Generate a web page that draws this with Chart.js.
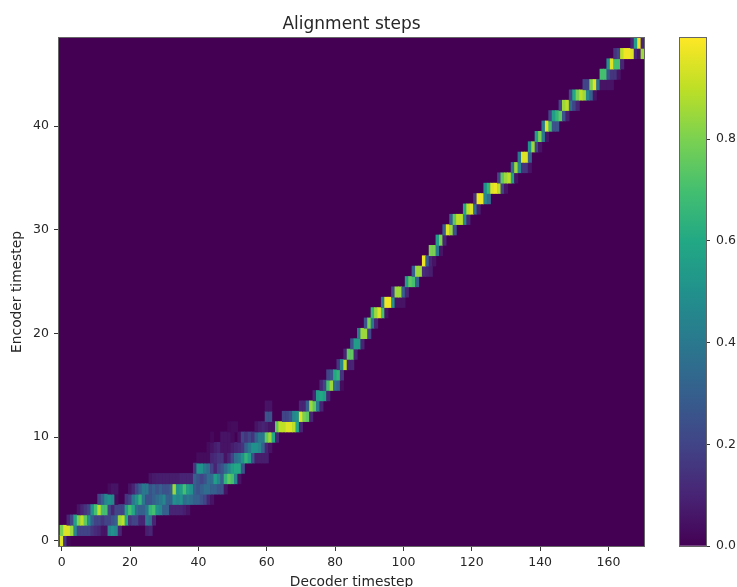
<!DOCTYPE html>
<html>
<head>
<meta charset="utf-8">
<style>
  body { margin: 0; background: #fff; }
  #alignChart { position: absolute; left: 0; top: 0; }
  #barChart { position: absolute; left: 650px; top: 0; }
</style>
<script src="https://cdn.jsdelivr.net/npm/chart.js@4/dist/chart.umd.min.js"></script>
</head>
<body>
<canvas id="alignChart" width="703" height="587"></canvas>
<canvas id="barChart" width="87" height="587"></canvas>
<script>
const title = 'Alignment steps';
const xTitle = 'Decoder timestep';
const yTitle = 'Encoder timestep';
const xRange = [-0.8, 170.4];
const yRange = [-0.5, 48.5];
const colorRange = [0, 0.999];

// first decoder step of each encoder row
const rowStarts = [
  0, 0, 2, 5, 11, 14, 26, 39, 40, 43,
  44, 49, 60, 60, 74, 76, 78, 81, 83, 85,
  87, 89, 91, 94, 97, 101, 103, 106, 108, 110,
  112, 114, 118, 121, 124, 128, 132, 134, 137, 139,
  141, 143, 146, 149, 153, 158, 160, 162, 167
];

// alignment weights of each encoder row
const rowValues = [
  [.95,.15,.02],
  [.8,.95,.95,.85,.45,.2,.2,.2,.2,.15,.12,.1,.05,.05,.45,.5,.45,.1,0,0,0,0,0,0,0,.08,.1],
  [.1,.2,.55,.8,.9,.75,.5,.3,.2,.2,.15,.2,.2,.25,.3,.85,.9,.6,.15,.2,.2,.1,.1,.4,.35,.1],
  [.05,.1,.15,.2,.5,.7,.9,.7,.7,.2,.1,.2,.2,.2,.55,.7,.6,.35,.3,.3,.4,.65,.7,.5,.45,.3,.3,.1,.1,.1,.1,.08,.05],
  [.2,.3,.45,.5,.45,.03,0,0,.15,.2,.4,.5,.65,.4,.25,.25,.3,.35,.4,.45,.3,.3,.5,.45,.5,.35,.4,.35,.3,.3,.25,.2,.1,.05],
  [.03,.05,.05,0,0,0,.05,.1,.2,.3,.4,.4,.25,.3,.25,.3,.25,.25,.3,.85,.5,.55,.7,.55,.5,.3,.25,.3,.35,.35,.3,.3,.25,.25,.05],
  [.05,.07,.08,.08,.08,.08,.08,.08,.08,.1,.1,.1,.1,.3,.25,.2,.25,.35,.35,.55,.45,.3,.65,.75,.7,.45,.05],
  [.15,.5,.5,.4,.35,.2,.1,.2,.25,.35,.45,.55,.6,.6,.25],
  [.03,.03,.03,.03,.1,.12,.15,.15,.05,.1,.2,.35,.4,.5,.65,.55,.25,.08,.08,.08,.08],
  [.03,.05,.08,.1,.05,.05,.05,.08,.1,.12,.15,.3,.4,.5,.5,.45,.3,.1,.05],
  [.02,0,0,.05,.05,.05,.03,0,.05,.2,.15,.2,.15,.3,.4,.4,.75,.85,.6,.1],
  [.02,.03,.03,0,0,0,0,0,.05,.08,.1,.08,.05,.05,.75,.9,.9,.95,.95,.9,.6,.1],
  [.25,.25,0,0,0,.2,.2,.25,.45,.5,.95,.8,.75,.1],
  [.05,.05,0,0,0,0,0,0,0,0,.1,.1,.3,.85,.75,.4,.1],
  [.1,.55,.6,.55,.1],
  [.1,.2,.7,.85,.35,.3,.03],
  [.2,.25,.6,.65,.15],
  [.15,.45,.9,.1,.1],
  [.1,.75,.75,.1],
  [.25,.55,.55,.1],
  [.4,.85,.85,.2],
  [.25,.8,.4,.1],
  [.65,.85,.95,.7,.05],
  [.4,.98,.98,.5,.05,.05,.05],
  [.2,.85,.85,.3,.1],
  [.55,.75,.7,.3],
  [.3,.85,.85,.12,.1,.08],
  [.98,.3,.1,.05],
  [.8,.8,.4,.05],
  [.55,.8,.1],
  [.3,.95,.85,.25],
  [.3,.75,.9,.9,.45,.1],
  [.6,.9,.95,.35,.08],
  [.15,.98,.98,.45,.35],
  [.5,.65,.95,.98,.9,.2,.05],
  [.2,.75,.85,.9,.55,.05],
  [.35,.85,.45,.15,.15,.05],
  [.4,.95,.95,.3],
  [.5,.85,.2,.05],
  [.55,.8,.4,.05],
  [.4,.95,.7,.25,.25],
  [.2,.55,.65,.75,.25,.08],
  [.2,.85,.9,.35,.2,.1],
  [.2,.6,.8,.9,.85,.45,.3,.05],
  [.2,.2,.8,.95,.35,.05,.05,.05,.05],
  [.7,.7,.25,.15,.15,.05],
  [.5,.95,.7,.7,.1],
  [.15,.2,.9,.98,.98,.95,.1,.05,.85],
  [.1,.55,.98,.1]
];

// viridis, every 0.1
const viridis = [
  [68,1,84],[72,36,117],[65,68,135],[53,95,141],[42,120,142],[33,145,140],
  [34,168,132],[68,191,112],[122,209,81],[189,223,38],[253,231,37]
];

function colorOf(v) {
  const pos = Math.min(v, 1) * (viridis.length - 1);
  const i = Math.min(Math.floor(pos), viridis.length - 2);
  const f = pos - i;
  const c = viridis[i].map((a, k) => Math.round(a + (viridis[i + 1][k] - a) * f));
  return `rgb(${c[0]},${c[1]},${c[2]})`;
}

const cells = [];
rowValues.forEach((row, e) => {
  row.forEach((v, k) => {
    if (v > 0) cells.push({ x: rowStarts[e] + k, y: [e - 0.5, e + 0.5], v: v });
  });
});

const font = { family: '"DejaVu Sans"', size: 12.5 };
const labelFont = { family: '"DejaVu Sans"', size: 13.8 };
const titleFont = { family: '"DejaVu Sans"', size: 17, weight: 'normal' };
const textColor = '#262626';

// purple behind the cells, frame around the axes
const frame = {
  id: 'frame',
  beforeDatasetsDraw(chart, args, opts) {
    const a = chart.chartArea;
    if (opts.fill) {
      chart.ctx.fillStyle = opts.fill;
      chart.ctx.fillRect(a.left, a.top, a.width, a.height);
    }
  },
  afterDatasetsDraw(chart) {
    const a = chart.chartArea;
    chart.ctx.strokeStyle = '#666';
    chart.ctx.lineWidth = 1;
    chart.ctx.strokeRect(a.left - 0.5, a.top - 0.5, a.width + 1, a.height + 1);
  }
};

new Chart(document.getElementById('alignChart'), {
  type: 'bar',
  data: {
    datasets: [{
      data: cells,
      backgroundColor: ctx => ctx.raw ? colorOf(ctx.raw.v) : '#440154',
      barPercentage: 1,
      categoryPercentage: 1,
      borderWidth: 0
    }]
  },
  options: {
    responsive: false,
    animation: false,
    plugins: {
      legend: { display: false },
      tooltip: { enabled: false },
      frame: { fill: '#440154' },
      title: {
        display: true,
        text: title,
        color: textColor,
        font: titleFont,
        padding: { top: 14, bottom: 3.6 }
      }
    },
    scales: {
      x: {
        type: 'linear',
        offset: false,
        min: xRange[0],
        max: xRange[1],
        afterFit(scale) { scale.height = 41; },
        title: { display: true, text: xTitle, color: textColor, font: labelFont, padding: { top: 0, bottom: -4 } },
        border: { color: '#666' },
        grid: { offset: false, drawOnChartArea: false, tickLength: 5, tickColor: '#333' },
        ticks: { stepSize: 20, includeBounds: false, maxRotation: 0, color: textColor, font: font, padding: 4 }
      },
      y: {
        type: 'linear',
        min: yRange[0],
        max: yRange[1],
        afterFit(scale) { scale.width = 59; },
        title: { display: true, text: yTitle, color: textColor, font: labelFont, padding: { top: 9, bottom: 0 } },
        border: { color: '#666' },
        grid: { drawOnChartArea: false, tickLength: 5, tickColor: '#333' },
        ticks: { stepSize: 10, includeBounds: false, color: textColor, font: font, padding: 5 }
      },
      // empty axis, only keeps room on the right so the title centres at the page position
      spacer: {
        type: 'linear',
        position: 'right',
        afterFit(scale) { scale.width = 59; },
        border: { display: false },
        grid: { display: false },
        ticks: { display: false }
      }
    }
  },
  plugins: [frame]
});

new Chart(document.getElementById('barChart'), {
  type: 'bar',
  data: {
    labels: [''],
    datasets: [{
      data: [colorRange],
      backgroundColor: ctx => {
        const a = ctx.chart.chartArea;
        if (!a) return '#440154';
        const g = ctx.chart.ctx.createLinearGradient(0, a.bottom, 0, a.top);
        viridis.forEach((c, i) => g.addColorStop(i / (viridis.length - 1), `rgb(${c[0]},${c[1]},${c[2]})`));
        return g;
      },
      barPercentage: 1,
      categoryPercentage: 1,
      borderWidth: 0
    }]
  },
  options: {
    responsive: false,
    animation: false,
    layout: { padding: { left: 30, right: 0, top: 38, bottom: 41 } },
    plugins: {
      legend: { display: false },
      tooltip: { enabled: false },
      frame: {}
    },
    scales: {
      x: {
        display: false
      },
      y: {
        position: 'right',
        min: colorRange[0],
        max: colorRange[1],
        afterFit(scale) { scale.width = 31; },
        border: { display: false },
        grid: { drawOnChartArea: false, tickLength: 4, tickColor: '#333' },
        ticks: { stepSize: 0.2, includeBounds: false, color: textColor, font: font, padding: 6, callback: v => v.toFixed(1) }
      }
    }
  },
  plugins: [frame]
});
</script>
</body>
</html>
